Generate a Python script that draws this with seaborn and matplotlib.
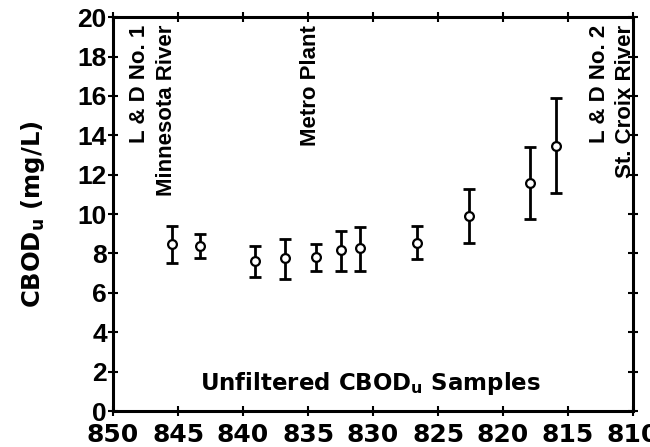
import numpy as np
import pandas as pd
import seaborn as sns
import matplotlib.pyplot as plt

# river mile, mean CBODu and the ends of the bars
river_mile = [845.5, 843.3, 839.1, 836.8, 834.4, 832.5, 831.0, 826.6, 822.6, 817.9, 815.9]
cbod_mean = [8.48, 8.38, 7.63, 7.75, 7.80, 8.20, 8.26, 8.54, 9.90, 11.59, 13.47]
cbod_low = [7.53, 7.75, 6.82, 6.68, 7.10, 7.10, 7.10, 7.70, 8.54, 9.75, 11.08]
cbod_high = [9.40, 9.00, 8.38, 8.73, 8.48, 9.15, 9.36, 9.39, 11.27, 13.42, 15.90]

# landmark names and where they sit along the river
site_names = ["L & D No. 1", "Minnesota River", "Metro Plant", "L & D No. 2", "St. Croix River"]
site_miles = [848.0, 845.9, 834.8, 812.6, 810.6]

x_ticks = [850, 845, 840, 835, 830, 825, 820, 815, 810]
y_ticks = [0, 2, 4, 6, 8, 10, 12, 14, 16, 18, 20]

df = pd.DataFrame({"mile": river_mile, "cbod": cbod_mean,
                   "lo": cbod_low, "hi": cbod_high})

sns.set_theme(style="ticks")
plt.rcParams["font.family"] = ["DejaVu Sans"]
for key in ["text.color", "axes.labelcolor", "xtick.color", "ytick.color"]:
    plt.rcParams[key] = "black"

fig = plt.figure(figsize=(6.5, 4.47), dpi=100)
ax = fig.add_axes([0.174, 0.0805, 0.80, 0.881])

yerr = np.array([df["cbod"] - df["lo"], df["hi"] - df["cbod"]])
ax.errorbar(df["mile"], df["cbod"], yerr=yerr, fmt="none", ecolor="black",
            elinewidth=2, capsize=4.5, capthick=2, zorder=2)
sns.scatterplot(data=df, x="mile", y="cbod", ax=ax, marker="o", s=40,
                facecolor="white", edgecolor="black", linewidth=1.6, zorder=3)

ax.set_xlim(850, 810)
ax.set_ylim(0, 20)
ax.set_xticks(x_ticks)
ax.set_yticks(y_ticks)
ax.tick_params(axis="both", which="both", direction="inout", length=7, width=1.5,
               top=True, right=True, color="black")
ax.tick_params(axis="x", labelsize=18, pad=5)
ax.tick_params(axis="y", labelsize=19, pad=1)
for lab in ax.get_xticklabels():
    lab.set_fontfamily("DejaVu Sans")
    lab.set_fontweight("bold")
for lab in ax.get_yticklabels():
    lab.set_fontfamily("Liberation Sans")
    lab.set_fontweight("bold")
for sp in ax.spines.values():
    sp.set_linewidth(2.2)
    sp.set_color("black")

ax.set_xlabel("")
ax.set_ylabel(r"CBOD$_\mathregular{u}$ (mg/L)", fontsize=17.5, fontweight="bold", labelpad=22)

for name, mile in zip(site_names, site_miles):
    ax.text(mile, 19.6, name, rotation=90, ha="center", va="top",
            fontsize=16, fontweight="bold", family="Liberation Sans")

ax.text(830.2, 1.4, r"Unfiltered CBOD$_\mathregular{u}$ Samples", ha="center", va="center",
        fontsize=16.5, fontweight="bold")

fig.savefig("out.png", dpi=100)
